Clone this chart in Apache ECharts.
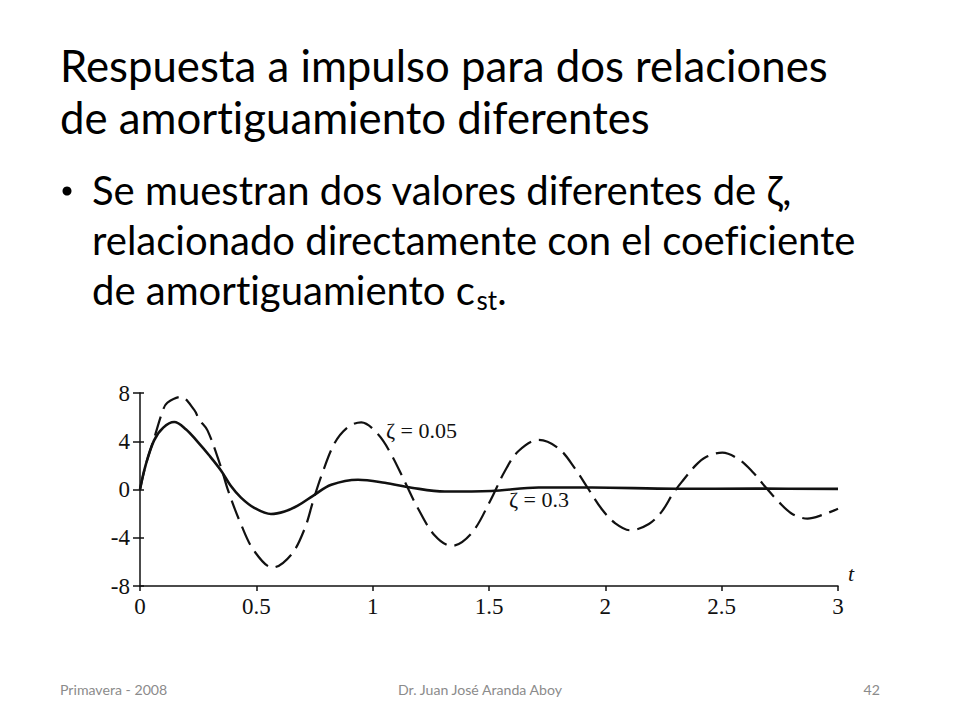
<!DOCTYPE html>
<html>
<head>
<meta charset="utf-8">
<script src="https://cdn.jsdelivr.net/npm/echarts@6/dist/echarts.min.js"></script>
<style>
  html, body { margin: 0; padding: 0; background: #fff; }
  #main { width: 960px; height: 720px; }
  #main svg text { font-variant-ligatures: none !important; font-feature-settings: "liga" 0, "clig" 0 !important; }
</style>
</head>
<body>
<div id="main"></div>
<script>
// zeta = 0.05 (dashed)
var tLow = [0, 0.024, 0.06, 0.10, 0.118, 0.175, 0.233, 0.254, 0.29, 0.348, 0.379, 0.434, 0.491, 0.57, 0.65, 0.707, 0.745,
    0.779, 0.836, 0.894, 0.951, 1.023, 1.08, 1.138, 1.195, 1.267, 1.339, 1.425, 1.505,
    1.569, 1.627, 1.713, 1.80, 1.871, 1.928, 1.986, 2.043, 2.108, 2.187, 2.244, 2.29,
    2.33, 2.388, 2.431, 2.503, 2.575, 2.632, 2.69, 2.747, 2.805, 2.869, 2.934, 3.0];
var yLow = [0, 2.0, 4.2, 6.65, 7.2, 7.67, 6.6, 5.8, 4.9, 1.85, -0.1, -2.88, -5.1, -6.47, -5.4, -3.29, -0.9,
    1.1, 3.83, 5.18, 5.57, 4.57, 2.9, 0.65, -1.58, -3.82, -4.68, -3.62, -0.95,
    1.56, 3.19, 4.11, 3.39, 1.7, 0.02, -1.66, -2.8, -3.38, -2.86, -1.79, -0.36,
    0.66, 2.0, 2.68, 3.06, 2.48, 1.48, 0.16, -1.06, -2.05, -2.41, -2.1, -1.59];

// zeta = 0.3 (solid)
var tHigh = [0, 0.024, 0.06, 0.10, 0.147, 0.197, 0.247, 0.297, 0.348, 0.39, 0.434, 0.491, 0.563, 0.621, 0.678, 0.745, 0.822, 0.937,
    1.052, 1.167, 1.31, 1.51, 1.713, 1.943, 2.302, 2.647, 3.0];
var yHigh = [0, 2.0, 4.05, 5.13, 5.59, 5.0, 3.97, 2.84, 1.58, 0.31, -0.67, -1.52, -2.03, -1.82, -1.34, -0.5, 0.39, 0.81,
    0.56, 0.15, -0.17, -0.12, 0.17, 0.17, 0.06, 0.07, 0.05];

var titleLines = ['Respuesta a impulso para dos relaciones', 'de amortiguamiento diferentes'];
var bulletLines = ['Se muestran dos valores diferentes de ζ,',
    'relacionado directamente con el coeficiente',
    'de amortiguamiento c'];
var footLeft = 'Primavera - 2008';
var footMid = 'Dr. Juan José Aranda Aboy';
var footRight = '42';

function pairs(xs, ys) {
    return xs.map(function (x, i) { return [x, ys[i]]; });
}

// measure text so the sans font fills the same width as the slide's Calibri
var ctx = document.createElement('canvas').getContext('2d');
var SANS = 'Lato, "Noto Sans", sans-serif';
function widthAt(text, size) {
    ctx.font = size + 'px ' + SANS;
    return ctx.measureText(text).width;
}
function fit(text, target) {
    return 100 * target / widthAt(text, 100);
}

var titleSize = fit(titleLines[0], 768);
var bodySize = fit(bulletLines[1], 763);
var footSize = fit(footMid, 166);

function txt(str, x, baseline, size, color, align) {
    return {
        type: 'text',
        style: {
            text: str, x: x, y: baseline - 0.33 * size,
            font: size + 'px ' + SANS,
            fill: color, textAlign: align || 'left', textVerticalAlign: 'middle'
        }
    };
}

var graphics = [];
graphics.push(txt(titleLines[0], 60, 79, titleSize, '#000'));
graphics.push(txt(titleLines[1], 60, 131, titleSize, '#000'));
graphics.push({
    type: 'circle',
    shape: { cx: 67, cy: 191, r: 4.5 },
    style: { fill: '#000' }
});
graphics.push(txt(bulletLines[0], 92, 203, bodySize, '#000'));
graphics.push(txt(bulletLines[1], 92, 253, bodySize, '#000'));
graphics.push(txt(bulletLines[2], 92, 303, bodySize, '#000'));
var cEnd = 92 + widthAt(bulletLines[2], bodySize);
var subSize = bodySize * 0.65;
graphics.push(txt('st', cEnd + 1, 309, subSize, '#000'));
ctx.font = subSize + 'px ' + SANS;
var stW = ctx.measureText('st').width;
graphics.push(txt('.', cEnd + 1 + stW, 303, bodySize, '#000'));

graphics.push(txt(footLeft, 60, 694, footSize, '#8b8b8b'));
graphics.push(txt(footMid, 480, 694, footSize, '#8b8b8b', 'center'));
graphics.push(txt(footRight, 880, 694, footSize, '#8b8b8b', 'right'));

var SERIF = '"Liberation Serif", "DejaVu Serif", serif';
graphics.push({
    type: 'text',
    style: { text: 'ζ = 0.05', x: 386, y: 430, font: '22px ' + SERIF, fill: '#111', textVerticalAlign: 'middle' }
});
graphics.push({
    type: 'text',
    style: { text: 'ζ = 0.3', x: 509, y: 499, font: '22px ' + SERIF, fill: '#111', textVerticalAlign: 'middle' }
});

var chart = echarts.init(document.getElementById('main'), null, { renderer: 'svg' });
chart.setOption({
    backgroundColor: '#fff',
    animation: false,
    graphic: graphics,
    grid: { left: 140, right: 122, top: 393, bottom: 134 },
    xAxis: {
        type: 'value',
        min: 0,
        max: 3,
        interval: 0.5,
        name: 't',
        nameLocation: 'end',
        nameGap: 10,
        nameTextStyle: {
            fontFamily: SERIF, fontStyle: 'italic', fontSize: 22, color: '#111',
            verticalAlign: 'bottom', padding: [0, 0, 2, 0]
        },
        axisLine: { onZero: false, lineStyle: { color: '#111', width: 1.5 } },
        axisTick: { length: 5, lineStyle: { color: '#111', width: 1.5 } },
        axisLabel: { margin: 9, fontFamily: SERIF, fontSize: 23, color: '#111' },
        splitLine: { show: false }
    },
    yAxis: [{
        type: 'value',
        min: -8,
        max: 8,
        interval: 4,
        axisLine: { show: true, lineStyle: { color: '#111', width: 1.5 } },
        axisTick: { show: true, length: 7, lineStyle: { color: '#111', width: 1.5 } },
        axisLabel: { margin: 10, fontFamily: SERIF, fontSize: 23, color: '#111' },
        splitLine: { show: false }
    }, {
        type: 'value',
        position: 'left',
        min: -8,
        max: 8,
        interval: 4,
        axisLine: { show: false },
        axisTick: { show: true, inside: true, length: 4, lineStyle: { color: '#111', width: 1.5 } },
        axisLabel: { show: false },
        splitLine: { show: false }
    }],
    series: [{
        name: 'zeta 0.05',
        type: 'line',
        data: pairs(tLow, yLow),
        smooth: 0.35,
        showSymbol: false,
        lineStyle: { color: '#111', width: 2.2, type: [20, 8] }
    }, {
        name: 'zeta 0.3',
        type: 'line',
        data: pairs(tHigh, yHigh),
        smooth: 0.35,
        showSymbol: false,
        lineStyle: { color: '#111', width: 2.6 }
    }]
});
</script>
</body>
</html>
